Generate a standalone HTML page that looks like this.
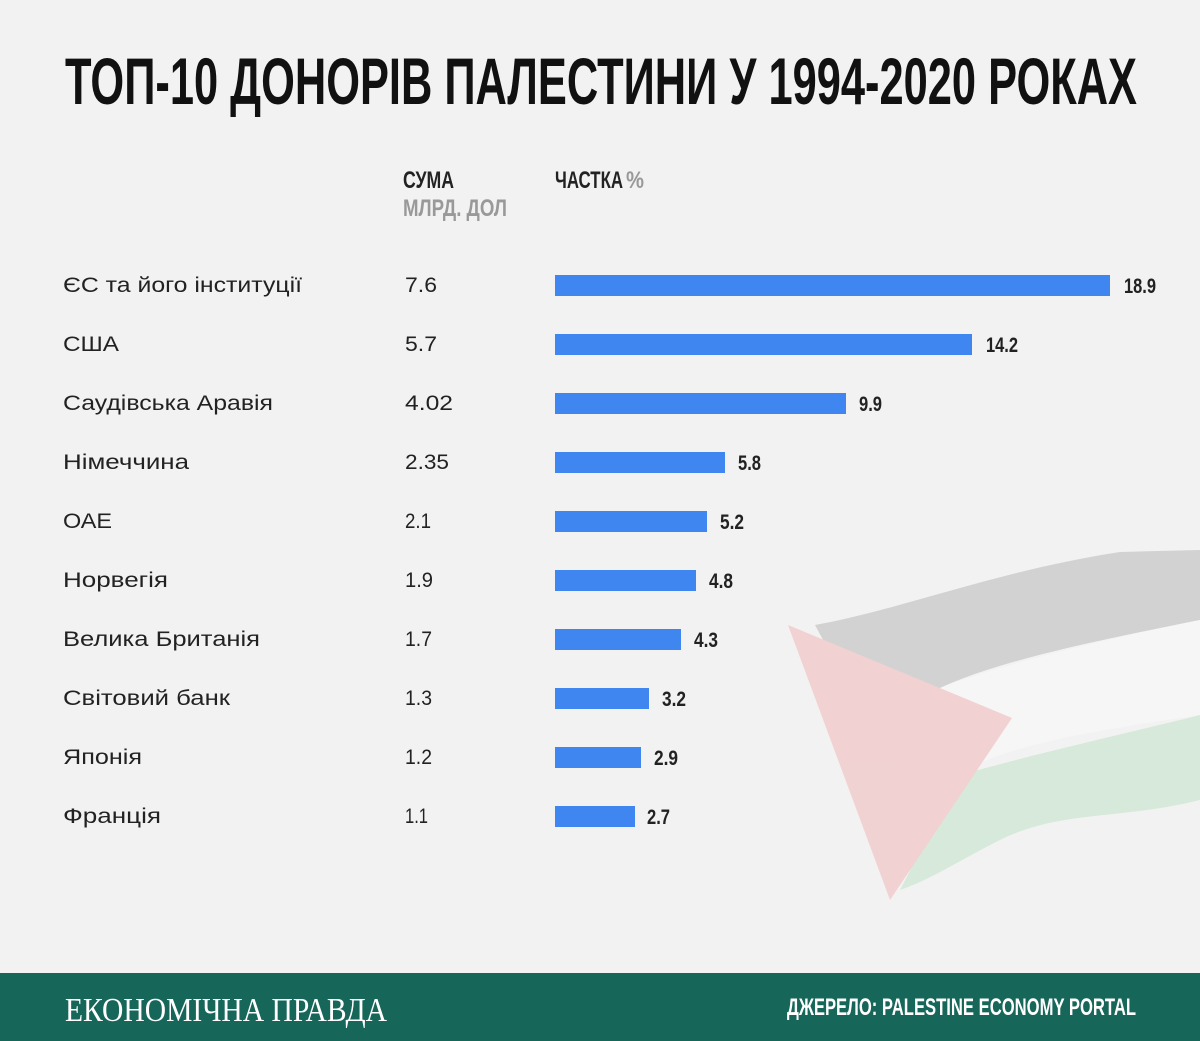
<!DOCTYPE html>
<html><head><meta charset="utf-8"><style>
html,body{margin:0;padding:0;background:#f2f2f2;}
svg{display:block}
</style></head><body>
<svg width="1200" height="1041" viewBox="0 0 1200 1041" xmlns="http://www.w3.org/2000/svg">
<rect width="1200" height="1041" fill="#f2f2f2"/>
<!-- flag -->
<g opacity="0.85">
<path d="M815,625 C900,610 1000,570 1120,552 L1200,550 L1200,620 C1100,640 1000,660 940,688 L850,690 Z" fill="#cdcdcd"/>
<path d="M940,688 C1000,665 1100,640 1200,620 L1200,715 C1100,730 1000,745 960,775 L980,720 Z" fill="#f7f7f7"/>
<path d="M960,775 C1050,750 1120,735 1200,715 L1200,800 C1120,820 1060,810 1000,840 C960,860 930,880 900,890 Z" fill="#d3e8d6"/>
<path d="M788,625 L1012,718 L890,900 Z" fill="#f1cccc"/>
</g>
<text x="65" y="104" font-family="Liberation Sans Narrow, Liberation Sans, sans-serif" font-weight="bold" font-size="66" fill="#111" textLength="1072" lengthAdjust="spacingAndGlyphs">ТОП-10 ДОНОРІВ ПАЛЕСТИНИ У 1994-2020 РОКАХ</text>
<g font-family="Liberation Sans Narrow, Liberation Sans, sans-serif" font-weight="bold" font-size="24">
<text x="403" y="188" fill="#222" textLength="51" lengthAdjust="spacingAndGlyphs">СУМА</text>
<text x="403" y="216" fill="#999" textLength="104" lengthAdjust="spacingAndGlyphs">МЛРД. ДОЛ</text>
<text x="555" y="188" fill="#222" textLength="68" lengthAdjust="spacingAndGlyphs">ЧАСТКА</text>
<text x="626" y="188" fill="#999" textLength="18" lengthAdjust="spacingAndGlyphs">%</text>
</g>
<g font-family="Liberation Sans, sans-serif" font-size="21" fill="#222" lengthAdjust="spacingAndGlyphs">
<text x="63" y="292" textLength="239" lengthAdjust="spacingAndGlyphs">ЄС та його інституції</text><text x="405" y="292" textLength="32" lengthAdjust="spacingAndGlyphs">7.6</text>
<text x="63" y="351" textLength="56" lengthAdjust="spacingAndGlyphs">США</text><text x="405" y="351" textLength="32" lengthAdjust="spacingAndGlyphs">5.7</text>
<text x="63" y="410" textLength="210" lengthAdjust="spacingAndGlyphs">Саудівська Аравія</text><text x="405" y="410" textLength="48" lengthAdjust="spacingAndGlyphs">4.02</text>
<text x="63" y="469" textLength="126" lengthAdjust="spacingAndGlyphs">Німеччина</text><text x="405" y="469" textLength="44" lengthAdjust="spacingAndGlyphs">2.35</text>
<text x="63" y="528" textLength="49" lengthAdjust="spacingAndGlyphs">ОАЕ</text><text x="405" y="528" textLength="26" lengthAdjust="spacingAndGlyphs">2.1</text>
<text x="63" y="587" textLength="105" lengthAdjust="spacingAndGlyphs">Норвегія</text><text x="405" y="587" textLength="28" lengthAdjust="spacingAndGlyphs">1.9</text>
<text x="63" y="646" textLength="197" lengthAdjust="spacingAndGlyphs">Велика Британія</text><text x="405" y="646" textLength="27" lengthAdjust="spacingAndGlyphs">1.7</text>
<text x="63" y="705" textLength="167" lengthAdjust="spacingAndGlyphs">Світовий банк</text><text x="405" y="705" textLength="27" lengthAdjust="spacingAndGlyphs">1.3</text>
<text x="63" y="764" textLength="79" lengthAdjust="spacingAndGlyphs">Японія</text><text x="405" y="764" textLength="27" lengthAdjust="spacingAndGlyphs">1.2</text>
<text x="63" y="823" textLength="98" lengthAdjust="spacingAndGlyphs">Франція</text><text x="405" y="823" textLength="23" lengthAdjust="spacingAndGlyphs">1.1</text>
</g>
<g fill="#4086f0">
<rect x="555" y="275" width="555" height="21"/>
<rect x="555" y="334" width="417" height="21"/>
<rect x="555" y="393" width="291" height="21"/>
<rect x="555" y="452" width="170" height="21"/>
<rect x="555" y="511" width="152" height="21"/>
<rect x="555" y="570" width="141" height="21"/>
<rect x="555" y="629" width="126" height="21"/>
<rect x="555" y="688" width="94" height="21"/>
<rect x="555" y="747" width="86" height="21"/>
<rect x="555" y="806" width="80" height="21"/>
</g>
<g font-family="Liberation Sans Narrow, Liberation Sans, sans-serif" font-weight="bold" font-size="21" fill="#222">
<text x="1124" y="293" textLength="32" lengthAdjust="spacingAndGlyphs">18.9</text>
<text x="986" y="352" textLength="32" lengthAdjust="spacingAndGlyphs">14.2</text>
<text x="859" y="411" textLength="23" lengthAdjust="spacingAndGlyphs">9.9</text>
<text x="738" y="470" textLength="23" lengthAdjust="spacingAndGlyphs">5.8</text>
<text x="720" y="529" textLength="24" lengthAdjust="spacingAndGlyphs">5.2</text>
<text x="709" y="588" textLength="24" lengthAdjust="spacingAndGlyphs">4.8</text>
<text x="694" y="647" textLength="24" lengthAdjust="spacingAndGlyphs">4.3</text>
<text x="662" y="706" textLength="24" lengthAdjust="spacingAndGlyphs">3.2</text>
<text x="654" y="765" textLength="24" lengthAdjust="spacingAndGlyphs">2.9</text>
<text x="647" y="824" textLength="23" lengthAdjust="spacingAndGlyphs">2.7</text>
</g>
<rect x="0" y="973" width="1200" height="68" fill="#16665a"/>
<text x="65" y="1021" font-family="Liberation Serif, serif" font-size="34" fill="#fff" textLength="322" lengthAdjust="spacingAndGlyphs">ЕКОНОМІЧНА ПРАВДА</text>
<text x="787" y="1015" font-family="Liberation Sans Narrow, Liberation Sans, sans-serif" font-weight="bold" font-size="24" fill="#fff" textLength="349" lengthAdjust="spacingAndGlyphs">ДЖЕРЕЛО: PALESTINE ECONOMY PORTAL</text>
</svg>
</body></html>
